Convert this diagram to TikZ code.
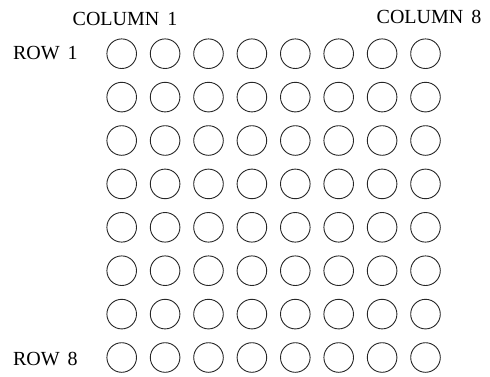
\documentclass[tikz,border=0pt]{standalone}
\usepackage{fontspec}
\setmainfont{Liberation Serif}
\usetikzlibrary{positioning}

\begin{document}
\begin{tikzpicture}[x=1pt, y=-1pt, semithick,
    led/.style={draw=black!85, line width=0.9pt, circle, minimum size=29.6pt, inner sep=0pt},
    lbl/.style={font=\fontsize{20}{22}\selectfont, inner sep=0pt}]
    \def\dx{43.4}\def\dy{43.4}
    \useasboundingbox (0,0) rectangle (490,376);
    % 8x8 matrix of leds
    \foreach \r in {1,...,8}{
      \foreach \c in {1,...,8}{
        \node[led] (c\r\c) at (121.7+\dx*\c-\dx, 53.7+\dy*\r-\dy) {};
      }
    }
    \node[lbl] (col1) at (125, 19) {COLUMN\hspace{8pt}1};
    \node[lbl] (col8) at (429, 16.5) {COLUMN\hspace{8pt}8};
    \node[lbl, anchor=west] (row1) at (12.7, 53.5) {ROW\hspace{8pt}1};
    \node[lbl, anchor=west] (row8) at (12.7, 359) {ROW\hspace{8pt}8};
\end{tikzpicture}
\end{document}
